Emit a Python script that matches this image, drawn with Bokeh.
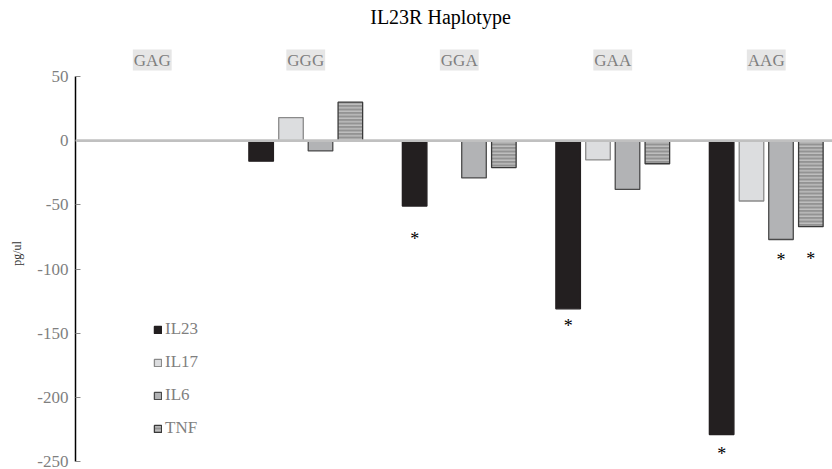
from bokeh.plotting import figure
from bokeh.models import (ColumnDataSource, Range1d, Span, FixedTicker, Legend,
                          LegendItem, PrintfTickFormatter)
from bokeh.core.properties import value
from bokeh.embed import file_html
from bokeh.resources import INLINE

# ---------------- data ----------------
haplotypes = ["GAG", "GGG", "GGA", "GAA", "AAG"]
series = ["IL23", "IL17", "IL6", "TNF"]
il23 = [0, -16, -51, -131, -229]
il17 = [0, 18, 0, -15, -47]
il6 = [0, -8, -29, -38, -77]
tnf = [0, 30, -21, -18, -67]
y_ticks = [50, 0, -50, -100, -150, -200, -250]
title_text = "IL23R Haplotype"
y_label = "pg/ul"
# significance asterisks: haplotype, series, value where the mark sits
star_haplotype = ["GGA", "GAA", "AAG", "AAG", "AAG"]
star_series = ["IL23", "IL23", "IL23", "IL6", "TNF"]
star_y = [-74, -142, -242, -91, -90]

# ---------------- style ----------------
FONT = "Liberation Serif"
GRAY_TXT = "#7f7f7f"
offsets = [-0.2906, -0.0961, 0.0961, 0.2906]
bar_w = 0.16
styles = {
    "IL23": dict(fill_color="#231f20", line_color="#231f20"),
    "IL17": dict(fill_color="#dcdddf", line_color="#8a8a8a"),
    "IL6": dict(fill_color="#b2b3b5", line_color="#4a4a4a"),
    "TNF": dict(fill_color="#939393", line_color="#3a3a3a",
                hatch_pattern="-", hatch_color="#c9c9c9",
                hatch_scale=3.5, hatch_weight=1.2),
}
values = {"IL23": il23, "IL17": il17, "IL6": il6, "TNF": tnf}

W, H = 832, 469
left = 75
bottom = 8
px_per_unit = 153.5
frame_w = W - left
frame_h = H - bottom
y_scale = 385 / 300.0          # pixels per data unit
y_top = 50 + 76 / y_scale       # frame top at page y = 0

p = figure(width=W, height=H, output_backend="svg", toolbar_location=None,
           x_range=Range1d(0, frame_w / px_per_unit),
           y_range=Range1d(-250, y_top),
           min_border_left=left, min_border_right=0, min_border_top=0,
           min_border_bottom=bottom, x_axis_location=None, title=None)
p.outline_line_color = None
p.grid.visible = False
p.background_fill_color = "white"
p.border_fill_color = "white"

centers = [i + 0.5 for i in range(len(haplotypes))]

items = []
for s, off in zip(series, offsets):
    xs, tops = [], []
    for c, v in zip(centers, values[s]):
        if v != 0:
            xs.append(c + off)
            tops.append(v)
    src = ColumnDataSource(dict(x=xs, top=tops))
    r = p.vbar(x="x", top="top", bottom=0, width=bar_w, source=src,
               line_width=1.3, **styles[s])
    items.append(LegendItem(label=s, renderers=[r]))

# zero line
p.add_layout(Span(location=0, dimension="width", line_color="#c0c0c0",
                  line_width=2.6))

# y axis
ax = p.yaxis[0]
ax.ticker = FixedTicker(ticks=y_ticks)
ax.formatter = PrintfTickFormatter(format="%d")
ax.bounds = (-250, 50)
ax.major_tick_in = 5
ax.major_tick_out = 0
ax.minor_tick_line_color = None
ax.major_tick_line_color = "#8a8a8a"
ax.axis_line_color = "black"
ax.axis_line_width = 1.5
ax.major_label_text_font = FONT
ax.major_label_text_font_size = "17px"
ax.major_label_text_color = GRAY_TXT
ax.major_label_standoff = 7
# axis title sits lower than the frame centre in the reference: pad its end
ax.axis_label = y_label + "\u00a0" * 15
ax.axis_label_text_font = FONT
ax.axis_label_text_font_size = "12px"
ax.axis_label_text_font_style = "normal"
ax.axis_label_text_color = "#333333"
ax.axis_label_standoff = 10

# group labels
lab_y = 50 + (76 - 59.5) / y_scale
p.text(x=centers, y=[lab_y] * len(centers), text=haplotypes,
       text_font=value(FONT), text_font_size="17px", text_color=GRAY_TXT,
       text_align="center", text_baseline="middle",
       background_fill_color="#e6e6e6", padding=1)

# title
p.text(x=[(440 - left) / px_per_unit], y=[50 + (76 - 16.5) / y_scale],
       text=[title_text], text_font=value(FONT), text_font_size="20px",
       text_color="black", text_align="center", text_baseline="middle")

# asterisks
sx = [centers[haplotypes.index(h)] + offsets[series.index(s)]
      for h, s in zip(star_haplotype, star_series)]
p.text(x=sx, y=star_y, text=["*"] * len(sx), text_font=value(FONT),
       text_font_size="18px", text_color="black", text_align="center",
       text_baseline="middle", y_offset=3)

legend = Legend(items=items, location=(78, 23), orientation="vertical",
                glyph_width=9, glyph_height=9, label_standoff=3,
                label_height=20, spacing=13, padding=0, margin=0,
                label_text_font=FONT, label_text_font_size="17px",
                label_text_color=GRAY_TXT, background_fill_alpha=0,
                border_line_color=None)
p.add_layout(legend)

open("out.html", "w").write(file_html(p, INLINE))
